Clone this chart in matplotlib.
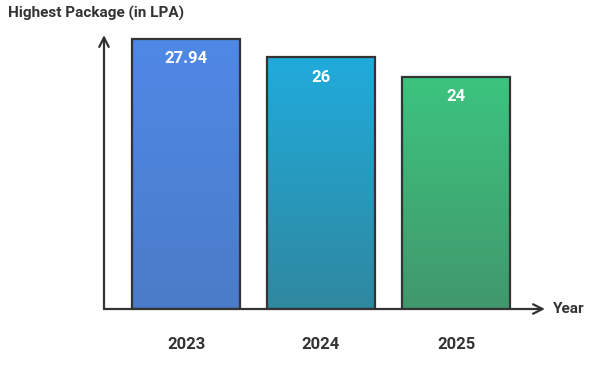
import matplotlib.pyplot as plt
import numpy as np
from matplotlib.colors import LinearSegmentedColormap

plt.rcParams['font.family'] = ['Roboto', 'DejaVu Sans']

# Datos
years = ['2023', '2024', '2025']
packages = [27.94, 26, 24]
labels = ['27.94', '26', '24']
top_colors = ['#4f88e6', '#20abdc', '#3cc47f']
bottom_colors = ['#4a7cc8', '#2f889f', '#41986c']

ink = '#333333'

fig = plt.figure(figsize=(6.12, 3.77), dpi=100)
W, H = 612, 377
# eje en coordenadas de pixel: x 104..545, y 20..309
ax = fig.add_axes([104 / W, (H - 309) / H, (545 - 104) / W, (309 - 20) / H])
px_per_unit = 9.68
ax.set_ylim(0, (309 - 20) / px_per_unit)
ax.set_xlim((104 - 186) / 135, (545 - 186) / 135)
ax.axis('off')

x = np.arange(len(years))
bars = ax.bar(x, packages, width=0.8, facecolor='none', edgecolor=ink, linewidth=1.6, zorder=3)

# Relleno con degradado vertical
for b, c0, c1 in zip(bars, top_colors, bottom_colors):
    cmap = LinearSegmentedColormap.from_list('g', [c1, c0])
    grad = np.linspace(0, 1, 256).reshape(-1, 1)
    x0, y0 = b.get_x(), b.get_y()
    im = ax.imshow(grad, cmap=cmap, origin='lower', aspect='auto',
                   extent=[x0, x0 + b.get_width(), y0, y0 + b.get_height()], zorder=2)
    im.set_clip_path(b)

# Etiquetas de valores
for xi, v, lab in zip(x, packages, labels):
    ax.annotate(lab, (xi, v), xytext=(0, -14.5), textcoords='offset points',
                ha='center', va='center', color='white', fontsize=12, fontweight='bold', zorder=4)

# Etiquetas de años
for xi, yr in zip(x, years):
    ax.annotate(yr, (xi, 0), xytext=(0, -25.5), textcoords='offset points',
                ha='center', va='center', color=ink, fontsize=12, fontweight='bold')

# Ejes con flechas
arrow = dict(arrowstyle='->', color=ink, lw=1.6, mutation_scale=17, shrinkA=0, shrinkB=0)
ax.annotate('', xy=(0, 1 - 15 / 289), xytext=(0, 0), xycoords='axes fraction', arrowprops=arrow)
ax.annotate('', xy=(1, 0), xytext=(0, 0), xycoords='axes fraction', arrowprops=arrow)

fig.text(553 / W, 1 - 309 / H, 'Year', ha='left', va='center', color=ink, fontsize=11, fontweight='bold')
fig.text(8 / W, 1 - 13 / H, 'Highest Package (in LPA)', ha='left', va='center', color=ink,
         fontsize=11, fontweight='bold')

fig.savefig('out.png', dpi=100)
